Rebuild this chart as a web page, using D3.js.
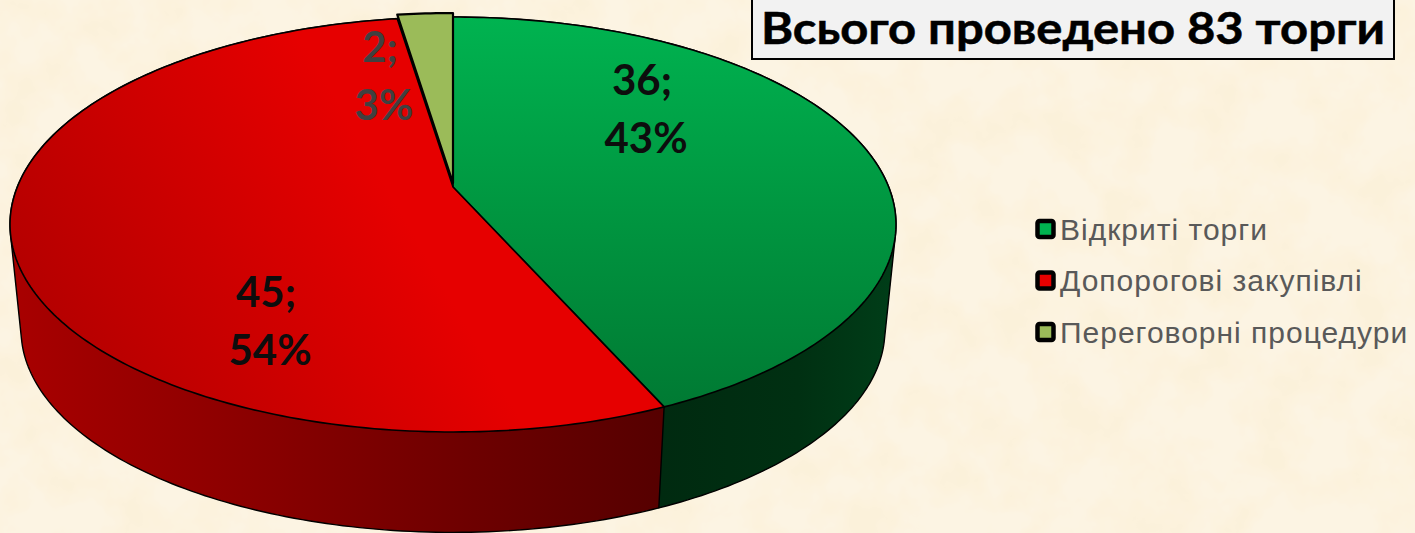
<!DOCTYPE html>
<html>
<head>
<meta charset="utf-8">
<script src="https://cdn.jsdelivr.net/npm/d3@7"></script>
<style>
    html, body { margin: 0; padding: 0; background: #fbf2df; overflow: hidden; }
    svg { display: block; }
</style>
</head>
<body>
<div id="chart"></div>
<script>
// Values
const categories = ["Відкриті торги", "Допорогові закупівлі", "Переговорні процедури"];
const counts = [36, 45, 2];
const percents = [43, 54, 3];
const titleText = "Всього проведено 83 торги";

// Styles, per category
const topColors = ["url(#greenTop)", "url(#redTop)", "#9bbb59"];
const sideColors = ["url(#greenSide)", "url(#redSide)", "#5f7535"];
const keyColors = ["url(#greenKey)", "#e60000", "#9bbb59"];
const labelColors = ["#0d0d0d", "#0d0d0d", "#404040"];
const labelCenters = [[645, 109], [269, 321], [383, 76]];
const explode = [0, 0, 4];

const width = 1415, height = 533;

const svg = d3.select("#chart").append("svg")
    .attr("width", width)
    .attr("height", height);

const defs = svg.append("defs");

function addGradient(id, x1, y1, x2, y2, stops) {
    const g = defs.append("linearGradient")
        .attr("id", id)
        .attr("gradientUnits", "userSpaceOnUse")
        .attr("x1", x1).attr("y1", y1)
        .attr("x2", x2).attr("y2", y2);
    stops.forEach(([o, c]) => g.append("stop").attr("offset", o).attr("stop-color", c));
}

addGradient("greenTop", 0, 17, 0, 407, [[0, "#00b350"], [0.5, "#009640"], [1, "#007a33"]]);
addGradient("redTop", 400, 210, 70, 400, [[0, "#e60000"], [1, "#b20000"]]);
addGradient("greenSide", 660, 0, 890, 0, [[0, "#002a10"], [0.6, "#003012"], [1, "#003d18"]]);
addGradient("redSide", 15, 0, 660, 0, [[0, "#a80000"], [0.35, "#8c0000"], [0.7, "#6e0000"], [1, "#560000"]]);
addGradient("greenKey", 0, 221, 0, 237, [[0, "#00b350"], [1, "#007a33"]]);

// parchment background
const paper = defs.append("filter")
    .attr("id", "paper")
    .attr("x", 0).attr("y", 0).attr("width", "100%").attr("height", "100%");
paper.append("feTurbulence")
    .attr("type", "fractalNoise")
    .attr("baseFrequency", 0.02)
    .attr("numOctaves", 4)
    .attr("seed", 7);
paper.append("feColorMatrix")
    .attr("type", "matrix")
    .attr("values", "0 0 0 0 0.97  0 0 0 0 0.88  0 0 0 0 0.70  2.6 0 0 0 -0.95");
paper.append("feComposite").attr("in2", "SourceGraphic").attr("operator", "over");

svg.append("rect")
    .attr("width", width)
    .attr("height", height)
    .attr("fill", "#fcf4e3")
    .attr("filter", "url(#paper)");

// Pie angles, clockwise from the top
const pie = d3.pie().sort(null).value(d => d);
const arcs = pie(counts);

// The pie is seen in perspective, so its centre is not the middle of the ellipse
const centerX = 453, centerY = 187;
const radiusX = 435.7, radiusY = 200.7, tilt = 0.1807;

function project(angle, r) {
    const u = r * Math.sin(angle), v = -r * Math.cos(angle);
    const w = 1 - tilt * v;
    return [centerX + radiusX * u / w, centerY + radiusY * v / w];
}

// The bottom rim is a bit smaller and further down
const rimScale = 0.975, rimOffset = 111.2;
function toRim([x, y]) {
    return [centerX + rimScale * (x - centerX), y * rimScale + rimOffset];
}

function arcPoints(d) {
    const n = Math.max(4, Math.ceil((d.endAngle - d.startAngle) * 60));
    return d3.range(n + 1).map(i => project(d.startAngle + (d.endAngle - d.startAngle) * i / n, 1));
}

const line = d3.line();

// Side walls first, tops go over them. The hull gives the straight edges at both sides
svg.append("g").selectAll("path")
    .data(arcs)
    .join("path")
    .attr("d", d => {
        const pts = arcPoints(d);
        return line(d3.polygonHull(pts.concat(pts.map(toRim)))) + "Z";
    })
    .attr("fill", (d, i) => sideColors[i])
    .attr("stroke", "#000")
    .attr("stroke-width", 1.4)
    .attr("stroke-linejoin", "round");

svg.append("g").selectAll("path")
    .data(arcs)
    .join("path")
    .attr("transform", (d, i) => `translate(0,${-explode[i]})`)
    .attr("d", d => line([[centerX, centerY]].concat(arcPoints(d))) + "Z")
    .attr("fill", (d, i) => topColors[i])
    .attr("stroke", "#000")
    .attr("stroke-width", (d, i) => i == 2 ? 2.2 : 1.6)
    .attr("stroke-linejoin", "round");

// Data labels
const labels = svg.append("g")
    .attr("font-family", "Lato, 'Open Sans', sans-serif")
    .attr("font-weight", 700)
    .attr("font-size", 42)
    .attr("text-anchor", "middle");

labels.selectAll("text.count")
    .data(counts)
    .join("text")
    .attr("class", "count")
    .attr("x", (d, i) => labelCenters[i][0] - 3)
    .attr("y", (d, i) => labelCenters[i][1] - 14)
    .attr("fill", (d, i) => labelColors[i])
    .text(d => `${d};`);

labels.selectAll("text.percent")
    .data(percents)
    .join("text")
    .attr("class", "percent")
    .attr("x", (d, i) => labelCenters[i][0] + 1)
    .attr("y", (d, i) => labelCenters[i][1] + 44)
    .attr("fill", (d, i) => labelColors[i])
    .text(d => `${d}%`);

// Title box
svg.append("rect")
    .attr("x", 752).attr("y", -2)
    .attr("width", 642).attr("height", 61)
    .attr("fill", "#f2f2f2")
    .attr("stroke", "#000")
    .attr("stroke-width", 2);

svg.append("text")
    .attr("x", 761).attr("y", 44)
    .attr("font-family", "Lato, 'Open Sans', sans-serif")
    .attr("font-weight", 700)
    .attr("font-size", 44)
    .attr("fill", "#000")
    .attr("stroke", "#000")
    .attr("stroke-width", 0.5)
    .attr("textLength", 624)
    .attr("lengthAdjust", "spacingAndGlyphs")
    .text(titleText);

// Legend
const legendY = d3.scalePoint().domain(categories).range([229, 332]);

const legend = svg.append("g").selectAll("g")
    .data(categories)
    .join("g")
    .attr("transform", d => `translate(1036,${legendY(d)})`);

legend.append("rect")
    .attr("x", 1.5).attr("y", -8)
    .attr("width", 16).attr("height", 16)
    .attr("rx", 2)
    .attr("fill", (d, i) => keyColors[i])
    .attr("stroke", "#000")
    .attr("stroke-width", 4.5);

legend.append("text")
    .attr("x", 24).attr("y", 10.5)
    .attr("font-family", "'Liberation Sans', Arial, sans-serif")
    .attr("font-size", 30)
    .attr("letter-spacing", 1)
    .attr("fill", "#595959")
    .text(d => d);
</script>
</body>
</html>
